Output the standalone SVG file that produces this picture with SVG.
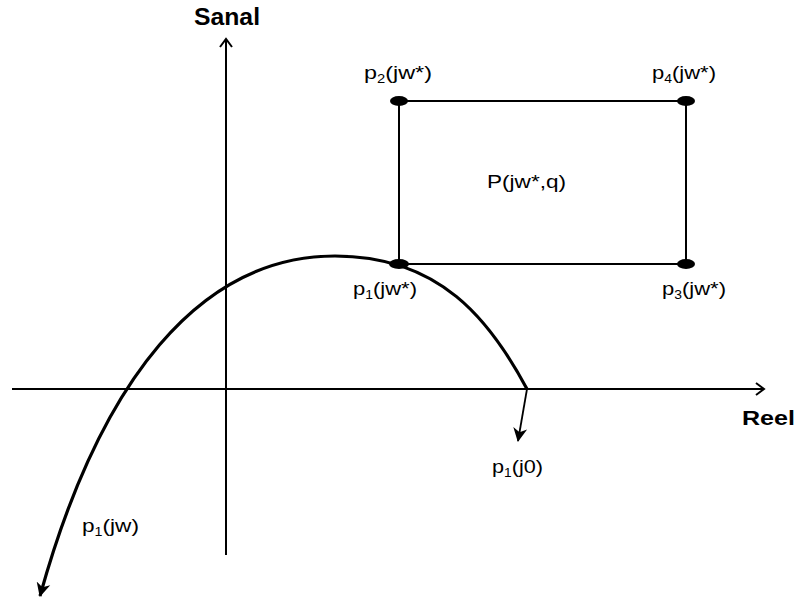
<svg xmlns="http://www.w3.org/2000/svg" width="797" height="606" viewBox="0 0 797 606">
<style>
.t{font-family:"Liberation Sans",Arial,sans-serif;font-size:19px;fill:#000}
.s{font-size:12px}
.b{font-family:"Liberation Sans",Arial,sans-serif;font-weight:bold;fill:#000}
.ax{stroke:#000;stroke-width:2;fill:none}
.rect{stroke:#000;stroke-width:2;fill:none}
</style>
<defs>
<marker id="open" markerWidth="14" markerHeight="14" refX="10" refY="7" orient="auto" markerUnits="userSpaceOnUse">
<path d="M2,1 L10,7 L2,13" fill="none" stroke="#000" stroke-width="2"/>
</marker>
<marker id="fill" markerWidth="16" markerHeight="16" refX="13" refY="8" orient="auto" markerUnits="userSpaceOnUse">
<path d="M0,1 L14,8 L0,15 L4,8 Z" fill="#000"/>
</marker>
</defs>
<g id="connectors">
<line class="ax" x1="226" y1="555" x2="226" y2="39" marker-end="url(#open)"/>
<line class="ax" x1="12" y1="389" x2="764" y2="389" marker-end="url(#open)"/>
<path d="M527,389 C490,320 440,256 335,256 C200,256 100,380 40,596" fill="none" stroke="#000" stroke-width="3.2" marker-end="url(#fill)"/>
<line x1="527" y1="389" x2="518" y2="441" stroke="#000" stroke-width="1.8" marker-end="url(#fill)"/>
</g>
<g id="box">
<rect class="rect" x="399" y="101" width="287" height="163"/>
</g>
<g id="p2"><ellipse cx="399" cy="101" rx="9" ry="5"/><text class="t" x="364" y="79" textLength="68" lengthAdjust="spacingAndGlyphs">p<tspan class="s" dy="4">2</tspan><tspan dy="-4">(jw*)</tspan></text></g>
<g id="p4"><ellipse cx="686" cy="101" rx="9" ry="5"/><text class="t" x="652" y="79" textLength="64" lengthAdjust="spacingAndGlyphs">p<tspan class="s" dy="4">4</tspan><tspan dy="-4">(jw*)</tspan></text></g>
<g id="p1"><ellipse cx="399" cy="264" rx="10" ry="5"/><text class="t" x="353" y="295" textLength="64" lengthAdjust="spacingAndGlyphs">p<tspan class="s" dy="4">1</tspan><tspan dy="-4">(jw*)</tspan></text></g>
<g id="p3"><ellipse cx="686" cy="264" rx="9" ry="5"/><text class="t" x="662" y="295" textLength="64" lengthAdjust="spacingAndGlyphs">p<tspan class="s" dy="4">3</tspan><tspan dy="-4">(jw*)</tspan></text></g>
<g id="P"><text class="t" x="487" y="188" textLength="79" lengthAdjust="spacingAndGlyphs">P(jw*,q)</text></g>
<g id="pj0"><text class="t" x="492" y="473" textLength="51" lengthAdjust="spacingAndGlyphs">p<tspan class="s" dy="4">1</tspan><tspan dy="-4">(j0)</tspan></text></g>
<g id="pjw"><text class="t" x="82" y="532" textLength="57" lengthAdjust="spacingAndGlyphs">p<tspan class="s" dy="4">1</tspan><tspan dy="-4">(jw)</tspan></text></g>
<g id="labels">
<text class="b" x="194" y="25" font-size="24" textLength="66" lengthAdjust="spacingAndGlyphs">Sanal</text>
<text class="b" x="742" y="425" font-size="21" textLength="53" lengthAdjust="spacingAndGlyphs">Reel</text>
</g>
</svg>
